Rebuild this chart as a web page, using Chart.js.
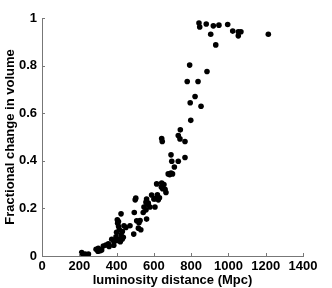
<!DOCTYPE html>
<html>
<head>
<meta charset="utf-8">
<script src="https://cdn.jsdelivr.net/npm/chart.js@4"></script>
<style>
  html, body { margin: 0; padding: 0; background: #fff; }
  #wrap { width: 332px; height: 288px; }
</style>
</head>
<body>
<div id="wrap"><canvas id="chart" width="332" height="288"></canvas></div>
<script>
// luminosity distance (Mpc) and fractional change in volume
const distance = [
  842, 846, 881, 919, 949, 996, 905, 932, 1023, 1053, 1067, 1053, 1214,
  792, 885, 779, 837, 821, 795, 853, 798,
  742, 731, 740, 767, 642, 645,
  692, 696, 731, 767, 710, 677, 692, 685, 700,
  615, 642, 654, 647, 665, 619, 606, 624, 606, 588, 630, 640, 660,
  503, 561, 558, 570, 579, 558, 547, 543, 561, 508, 526, 517, 492, 495,
  500, 560, 570, 600, 520, 530,
  472, 440, 424, 404, 406, 411, 415, 431, 424, 436, 415,
  410, 400, 420, 430, 450,
  397, 401, 386, 374, 356, 343, 329, 302, 290, 311, 300, 320, 360, 385,
  213, 231, 249, 220, 240
];
const volumeChange = [
  0.979, 0.962, 0.975, 0.967, 0.970, 0.973, 0.932, 0.887, 0.945, 0.942, 0.942, 0.925, 0.932,
  0.802, 0.775, 0.733, 0.733, 0.670, 0.644, 0.629, 0.570,
  0.530, 0.506, 0.492, 0.481, 0.494, 0.481,
  0.425, 0.398, 0.398, 0.414, 0.374, 0.345, 0.349, 0.342, 0.345,
  0.303, 0.307, 0.300, 0.283, 0.267, 0.257, 0.241, 0.236, 0.206, 0.256, 0.245, 0.290, 0.280,
  0.243, 0.239, 0.225, 0.222, 0.206, 0.194, 0.206, 0.183, 0.155, 0.148, 0.149, 0.117, 0.092, 0.183,
  0.236, 0.230, 0.215, 0.240, 0.140, 0.110,
  0.127, 0.127, 0.177, 0.152, 0.138, 0.124, 0.110, 0.103, 0.089, 0.079, 0.070,
  0.145, 0.100, 0.060, 0.070, 0.120,
  0.081, 0.065, 0.060, 0.070, 0.051, 0.046, 0.042, 0.032, 0.028, 0.022, 0.020, 0.025, 0.040, 0.045,
  0.014, 0.008, 0.008, 0.005, 0.003
];
const xTicks = [0, 200, 400, 600, 800, 1000, 1200, 1400];
const yTicks = [0, 0.2, 0.4, 0.6, 0.8, 1];

const points = distance.map((d, i) => ({ x: d, y: volumeChange[i] }));

// MATLAB style ticks pointing into the plot
const innerTicks = {
  id: 'innerTicks',
  afterDraw(chart) {
    const { ctx, scales: { x, y } } = chart;
    ctx.save();
    ctx.strokeStyle = '#777';
    ctx.lineWidth = 1;
    ctx.beginPath();
    xTicks.forEach(v => {
      const px = Math.round(x.getPixelForValue(v)) + 0.5;
      ctx.moveTo(px, y.bottom);
      ctx.lineTo(px, y.bottom - 3);
    });
    yTicks.forEach(v => {
      const py = Math.round(y.getPixelForValue(v)) + 0.5;
      ctx.moveTo(x.left, py);
      ctx.lineTo(x.left + 3, py);
    });
    ctx.stroke();
    ctx.restore();
  }
};

const font = { family: 'Liberation Sans, Arial, sans-serif', size: 13, weight: 'bold' };

new Chart(document.getElementById('chart'), {
  type: 'scatter',
  data: {
    datasets: [{
      data: points,
      backgroundColor: '#000',
      borderColor: '#000',
      pointRadius: 2.8,
      borderWidth: 0
    }]
  },
  options: {
    responsive: false,
    animation: false,
    layout: { padding: { top: 18, right: 29, left: 0, bottom: 0 } },
    plugins: { legend: { display: false }, tooltip: { enabled: false } },
    scales: {
      x: {
        type: 'linear',
        min: 0,
        max: 1400,
        afterBuildTicks: s => { s.ticks = xTicks.map(v => ({ value: v })); },
        afterFit: s => { s.height = 32; },
        grid: { drawOnChartArea: false, drawTicks: false },
        border: { display: true, color: '#777', width: 1 },
        ticks: { color: '#000', font, padding: 3, maxRotation: 0, callback: v => String(v) },
        title: { display: true, text: 'luminosity distance (Mpc)', color: '#000', font, padding: { top: 0, bottom: 0 } }
      },
      y: {
        type: 'linear',
        min: 0,
        max: 1,
        afterBuildTicks: s => { s.ticks = yTicks.map(v => ({ value: v })); },
        afterFit: s => { s.width = 42; },
        grid: { drawOnChartArea: false, drawTicks: false },
        border: { display: true, color: '#777', width: 1 },
        ticks: { color: '#000', font, padding: 5, callback: v => String(v) },
        title: { display: true, text: 'Fractional change in volume', color: '#000', font, padding: { top: 3, bottom: 0 } }
      }
    }
  },
  plugins: [innerTicks]
});
</script>
</body>
</html>
